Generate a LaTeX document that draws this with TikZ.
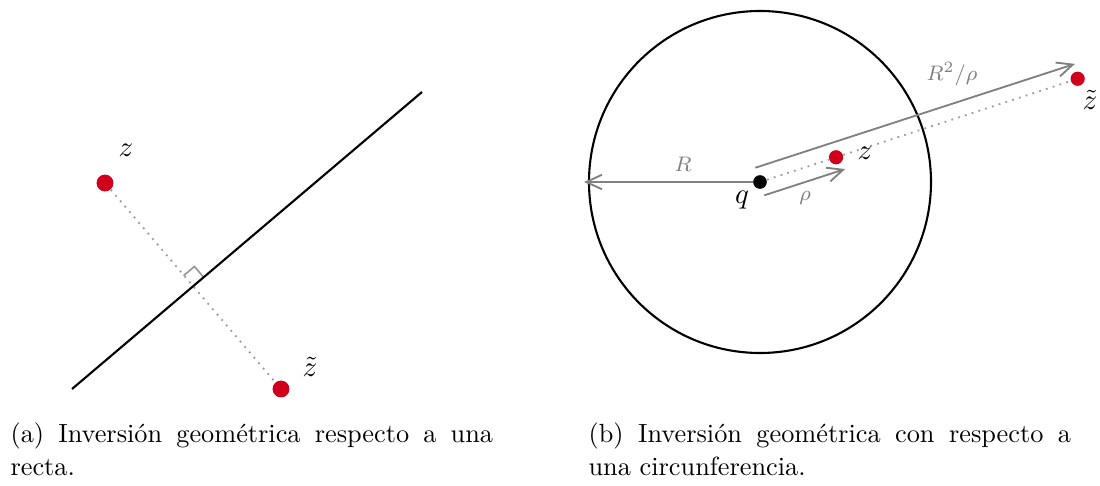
\documentclass[tikz,border=0pt]{standalone}
\usetikzlibrary{calc,arrows.meta}

\definecolor{dotred}{RGB}{208,0,28}

\tikzset{
  reddot/.style={circle, fill=dotred, inner sep=0pt, minimum size=6.4pt},
  blackdot/.style={circle, fill=black, inner sep=0pt, minimum size=5.2pt},
  guide/.style={dotted, gray!75, line width=0.7pt},
  anglemark/.style={gray!85, line width=0.6pt},
  measure/.style={gray, line width=0.7pt, -{Straight Barb[length=6pt,width=5.5pt]}},
  ptlabel/.style={inner sep=0pt, font={\fontsize{11}{13}\selectfont}},
  meslabel/.style={inner sep=0pt, text=gray, font={\fontsize{8}{9}\selectfont}},
  subcaption/.style={anchor=base west, inner sep=0pt, text width=6.45cm, align=justify,
    font={\fontsize{10}{12.2}\selectfont}}
}

\begin{document}
\begin{tikzpicture}[x=0.01336cm, y=0.01336cm]

\useasboundingbox (0,0) rectangle (1100,486);

\coordinate (lA) at (72,97);
\coordinate (lB) at (422,394);

\node [reddot] (zl) at (105,303) {};
\node [reddot] (wl) at (281,97) {};

\coordinate (foot) at ($(lA)!(zl)!(lB)$);
\coordinate (sqA) at ($(foot)!5.4pt!(lB)$);
\coordinate (sqB) at ($(foot)!5.4pt!(zl)$);
\coordinate (sqC) at ($(sqA)+(sqB)-(foot)$);

\draw [guide] (zl) -- (wl);
\draw [anglemark] (sqA) -- (sqC) -- (sqB);
\draw [line width=0.8pt] (lA) -- (lB);

\node [ptlabel] (zlab) at (126,336) {$z$};
\node [ptlabel] (wlab) at (310,119) {$\tilde{z}$};



\node [blackdot] (q) at (760,304) {};
\draw [line width=0.8pt] (q.center) circle [radius=171];

\node [reddot, minimum size=5.4pt] (zr) at ($(q)+(18:80)$) {};
\node [reddot, minimum size=5.4pt] (wr) at ($(q)+(18:334)$) {};
\draw [guide] (q) -- (zr) -- (wr);

\coordinate (Rtip) at (584,304);
\draw [measure] (q) -- (Rtip);
\node [meslabel] (Rlab) at (683,322) {$R$};

\coordinate (rhoA) at ($(q)+(-72:14)$);
\coordinate (rhoB) at ($(rhoA)+(18:85)$);
\draw [measure] (rhoA) -- (rhoB);
\node [meslabel] (rholab) at (805,288) {$\rho$};

\coordinate (invA) at ($(q)+(108:15)$);
\coordinate (invB) at ($(invA)+(18:336)$);
\draw [measure] (invA) -- (invB);
\node [meslabel] (invlab) at (952,412) {$R^2/\rho$};

\node [ptlabel] (qlab) at (742,286) {$q$};
\node [ptlabel] (zrlab) at (865,333) {$z$};
\node [ptlabel] (wrlab) at (1090,386) {$\tilde{z}$};



\node [subcaption] (capa) at (10,43) {(a) Inversión geométrica respecto a una recta.};
\node [subcaption] (capb) at (588,43) {(b) Inversión geométrica con respecto a una circunferencia.};

\end{tikzpicture}
\end{document}
